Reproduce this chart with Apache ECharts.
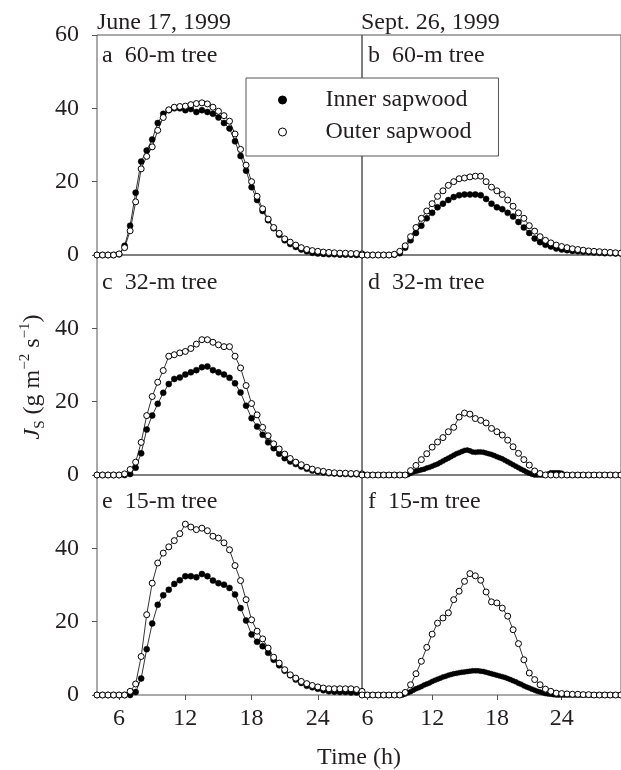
<!DOCTYPE html>
<html><head><meta charset="utf-8">
<script src="https://cdn.jsdelivr.net/npm/echarts@6/dist/echarts.min.js"></script>
<style>html,body{margin:0;padding:0;background:#fff}#c{width:621px;height:770px}</style>
</head><body><div id="c"></div>
<script>
// ---- sampling grids (hours) ----
function seq(a, b, s) { const r = []; for (let v = a; v <= b + 1e-9; v += s) r.push(+v.toFixed(2)); return r; }
const hoursJune = seq(4, 28, 0.5);        // June 17 half-hourly
const hoursSept = seq(5.5, 29.5, 0.5);    // Sept 26 half-hourly
const hoursSeptQ = seq(5.5, 29.5, 0.25);  // Sept 26 quarter-hourly (inner sapwood, d & f)

// ---- tick labels ----
const xTicks = [6, 12, 18, 24];
const yTicks = [0, 20, 40, 60];

// ---- panel a: 60-m tree, June ----
const aInner = [0,0,0,0,0.2, 2.5,8,17,25.5,28.5, 31.5,36,38.5,39.5,40, 40,39.5,39.8,39,39.5, 39,38.5,37.5,36,34.5, 31,27,23,18.5,15, 12,9.5,7.3,5.5,4, 3,2.2,1.5,1,0.6, 0.4,0.3,0.2,0.2,0.1, 0.1,0.1,0,0];
const aOuter = [0,0,0,0,0.3, 2,6.6,14.5,23.5,26.9, 29.5,34,37.5,39.6,40.3, 40.5,40.6,41,41.3,41.5, 41.2,40.3,39.2,38,36.5, 33,28.8,24.5,20,16, 12.6,9.8,7.5,5.9,4.4, 3.5,2.7,2,1.5,1.2, 1,0.8,0.7,0.6,0.5, 0.5,0.4,0.4,0.3];
// ---- panel b: 60-m tree, Sept ----
const bInner = [0,0,0,0,0,0,0.1, 0.5,2,4,6,8, 10,11.5,13,14,15, 15.8,16.3,16.5,16.5,16.5, 16.3,15.3,14,13,12.5, 11.5,10.5,9,7.5,6, 4.5,3.5,2.8,2.3,1.8, 1.5,1.3,1.1,1,0.9, 0.8,0.7,0.6,0.5,0.5, 0.4,0.4];
const bOuter = [0,0,0,0,0,0,0.2, 1,2.5,5,7.5,10, 12,14,16,17.5,19, 20,20.8,21,21.3,21.5, 21.5,20,18.5,17.5,16.5, 15,13.3,11.5,10,8, 6.5,5,4,3.3,2.7, 2.3,2,1.7,1.5,1.3, 1.1,1,0.9,0.8,0.7, 0.6,0.5];
// ---- panel c: 32-m tree, June ----
const cInner = [0,0,0,0,0,0, 0.3,2,5.9,12.4,16.2, 19.4,22.4,24.8,26.2,26.6, 27.4,28,28.6,29.4,29.6, 28.6,28,27.4,26.5,25, 22.5,18.9,15.5,13.2,11, 8.9,7.3,5.8,4.6,3.7, 3,2.3,1.7,1.2,0.9, 0.7,0.5,0.4,0.3,0.3, 0.2,0.2,0.1];
const cOuter = [0,0,0,0,0,0.3, 1.5,3.5,8.9,16.2,21.4, 25.3,28.5,32.4,32.8,33.3, 33.7,34.5,35.7,36.9,36.9, 36.2,35.5,35,35,32.4, 29.2,24.4,19.5,16.4,13, 10.7,8.5,7.1,5.7,4.5, 3.5,2.8,2.1,1.6,1.2, 1,0.7,0.6,0.5,0.5, 0.4,0.4,0.3];
// ---- panel d: 32-m tree, Sept ----
const dInner = [0,0,0,0,0,0,0,0,0,0,0,0,0,0,0,0,0,
  0.1,0.5,0.8,1.0,1.2,1.4,1.6,1.9,2.1,2.4,2.7,3.0,3.4,3.8,4.2,4.6,5.0,5.4,5.8,6.1,6.4,6.7,6.8,6.6,6.3,6.2,6.3,6.3,6.2,6.0,5.8,5.6,5.3,5.0,4.7,4.4,4.0,3.6,3.2,2.8,2.4,2.0,1.6,1.2,0.8,0.5,0.2,
  0,0,0,0,0,0.3,0.6,0.6,0.6,0.6,0.5,0.1,
  0,0,0,0,0,0,0,0,0,0,0,0,0,0,0,0,0,0,0,0,0];
const dOuter = [0,0,0,0,0,0,0,0,0, 1.2,2.6,4.2,5.8,7.6, 9,10.2,11.8,13,15.8, 16.9,16.6,15.4,14.9,14.2, 12.7,11.8,10.9,9.5,7.7, 5.9,4.2,2.7,1.1,0.4, 0,0,0,0,0,0,0,0,0,0,0,0,0,0,0];
// ---- panel e: 15-m tree, June ----
const eInner = [0,0,0,0,0,0,0, 0.8,4.5,12.5,19.5,24.6, 27.2,28.7,30.3,31.3,32.4, 32.4,32.1,33,32.4,31.2, 30.5,30.1,29.2,27.4,23.7, 20.3,16.5,14.5,13.3,11.5, 9.6,8.1,6.6,5.4,4.2, 3.3,2.5,2.1,1.7,1.3, 1,0.9,0.8,0.8,0.7, 0.7,0.5];
const eOuter = [0,0,0,0,0,0, 1,3,10.5,21.9,30.5, 36,38.7,40.4,42.1,44, 46.6,45.8,45.1,45.5,44.8, 43.3,42.8,41.5,39.6,35.3, 31.2,26,20.5,17.4,15.3, 12.8,10.3,8.7,6.9,5.5, 4.6,3.7,3.1,2.6,2.2, 1.9,1.7,1.7,1.7,1.7, 1.7,1.5,1];
// ---- panel f: 15-m tree, Sept ----
const fInner = [0,0,0,0,0,0,0,0,0,0,0,0,0,0,0,0,
  0.3,0.6,0.9,1.3,1.7,2.0,2.3,2.7,3.0,3.3,3.7,4.0,4.3,4.6,4.9,5.1,5.4,5.6,5.8,5.9,6.1,6.2,6.3,6.4,6.5,6.6,6.6,6.6,6.5,6.4,6.2,6.0,5.8,5.6,5.4,5.2,5.0,4.8,4.5,4.2,3.9,3.6,3.2,2.9,2.5,2.2,1.9,1.6,1.3,1.0,0.8,0.6,0.4,0.3,0.2,0.1,
  0,0,0,0,0,0,0,0,0,0,0,0,0,0,0,0,0,0,0,0,0,0,0,0,0];
const fOuter = [0,0,0,0,0,0,0,0, 0.7,2.8,5.8,9.2,13, 16.6,19.6,21,22.4,26, 28.3,31,33.1,32.5,31.3, 28.1,25.4,25.1,23.7,21.5, 17.8,14,9.6,6,4.2, 2.8,1.6,1,0.5,0.4, 0.3,0.2,0.2,0.1,0.1, 0,0,0,0,0,0];

const panelLabels = ['a  60-m tree','b  60-m tree','c  32-m tree','d  32-m tree','e  15-m tree','f  15-m tree'];
const dateLabels = ['June 17, 1999', 'Sept. 26, 1999'];

const FONT = '"Liberation Serif", "Times New Roman", serif';
const INK = '#231f20';
const FRAME = '#555';
const rowTops = [35, 255, 475];
const rowH = 220;
const colLeft = [97, 362];
const colW = [265, 264];
const xRange = [[4, 28], [5.5, 29.5]];
const labelY = [56, 283, 502];

const grids = [], xAxes = [], yAxes = [], graphics = [];
for (let r = 0; r < 3; r++) {
  for (let c = 0; c < 2; c++) {
    const gi = r * 2 + c;
    grids.push({left: colLeft[c], top: rowTops[r], width: colW[c], height: rowH, show: true, borderColor: FRAME, borderWidth: 1, backgroundColor: 'transparent'});
    const bottom = r === 2;
    xAxes.push({type: 'value', gridIndex: gi, min: xRange[c][0], max: xRange[c][1],
      axisLine: {show: false}, splitLine: {show: false},
      axisTick: {show: bottom, customValues: xTicks, length: 5, lineStyle: {color: FRAME}},
      axisLabel: {show: bottom, customValues: xTicks, margin: 12, fontSize: 24, fontFamily: FONT, color: INK}});
    const left = c === 0;
    const yv = r === 0 ? yTicks : yTicks.slice(0, 3);
    yAxes.push({type: 'value', gridIndex: gi, min: 0, max: 60, interval: 20,
      axisLine: {show: false}, splitLine: {show: false},
      axisTick: {show: left, customValues: yv, length: 5, lineStyle: {color: FRAME}},
      axisLabel: {show: left, customValues: yv, margin: 18, fontSize: 24, fontFamily: FONT, color: INK}});
    graphics.push({type: 'text', x: c === 0 ? 102 : 368, y: labelY[r], z: 20,
      style: {text: panelLabels[gi], fill: INK, font: '24px ' + FONT, align: 'left', verticalAlign: 'middle'}});
  }
}
graphics.push({type: 'text', x: 97, y: 23, style: {text: dateLabels[0], fill: INK, font: '24px ' + FONT, align: 'left', verticalAlign: 'middle'}});
graphics.push({type: 'text', x: 361, y: 23, style: {text: dateLabels[1], fill: INK, font: '24px ' + FONT, align: 'left', verticalAlign: 'middle'}});
graphics.push({type: 'text', x: 359, y: 758, style: {text: 'Time (h)', fill: INK, font: '24px ' + FONT, align: 'center', verticalAlign: 'middle'}});
graphics.push({type: 'text', x: 33, y: 377, rotation: Math.PI / 2,
  style: {text: '{j|J}{sub|S}{n| (g m}{sup|−2}{n| s}{sup|−1}{n|)}', fill: INK, align: 'center', verticalAlign: 'middle',
    rich: {
      j: {fontFamily: FONT, fontSize: 24, fontStyle: 'italic', lineHeight: 30, fill: INK},
      n: {fontFamily: FONT, fontSize: 24, lineHeight: 30, fill: INK},
      sub: {fontFamily: FONT, fontSize: 15, lineHeight: 16, verticalAlign: 'bottom', fill: INK},
      sup: {fontFamily: FONT, fontSize: 15, lineHeight: 14, verticalAlign: 'top', fill: INK}
    }}});

function mk(name, gi, xs, ys, filled, size) {
  return {type: 'line', name: name, xAxisIndex: gi, yAxisIndex: gi,
    data: xs.map((x, i) => [x, ys[i]]),
    symbol: 'circle', symbolSize: size || 6, showSymbol: true, clip: true,
    lineStyle: {color: '#000', width: 0.8},
    itemStyle: filled ? {color: '#000', borderColor: '#000', borderWidth: 0.5} : {color: '#fff', borderColor: '#000', borderWidth: 1},
    emphasis: {disabled: true}, animation: false, z: filled ? 2 : 3};
}
const IN = 'Inner sapwood', OUT = 'Outer sapwood';
const series = [
  mk(IN, 0, hoursJune, aInner, true), mk(OUT, 0, hoursJune, aOuter, false),
  mk(IN, 1, hoursSept, bInner, true), mk(OUT, 1, hoursSept, bOuter, false),
  mk(IN, 2, hoursJune, cInner, true), mk(OUT, 2, hoursJune, cOuter, false),
  mk(IN, 3, hoursSeptQ, dInner, true, 5), mk(OUT, 3, hoursSept, dOuter, false),
  mk(IN, 4, hoursJune, eInner, true), mk(OUT, 4, hoursJune, eOuter, false),
  mk(IN, 5, hoursSeptQ, fInner, true, 5), mk(OUT, 5, hoursSept, fOuter, false)
];

const chart = echarts.init(document.getElementById('c'), null, {renderer: 'canvas'});
chart.setOption({
  animation: false,
  backgroundColor: '#fff',
  grid: grids, xAxis: xAxes, yAxis: yAxes, series: series, graphic: graphics,
  legend: {orient: 'vertical', left: 246, top: 78, padding: [10, 27, 12, 32], itemGap: 8,
    itemWidth: 8, itemHeight: 8, backgroundColor: '#fff', borderColor: FRAME, borderWidth: 1,
    selectedMode: false, z: 10,
    data: [{name: IN, icon: 'circle', itemStyle: {color: '#000', borderColor: '#000', borderWidth: 1}},
           {name: OUT, icon: 'circle', itemStyle: {color: '#fff', borderColor: '#000', borderWidth: 1}}],
    textStyle: {fontSize: 24, fontFamily: FONT, color: INK, padding: [0, 0, 0, 34]}}
});
</script></body></html>
